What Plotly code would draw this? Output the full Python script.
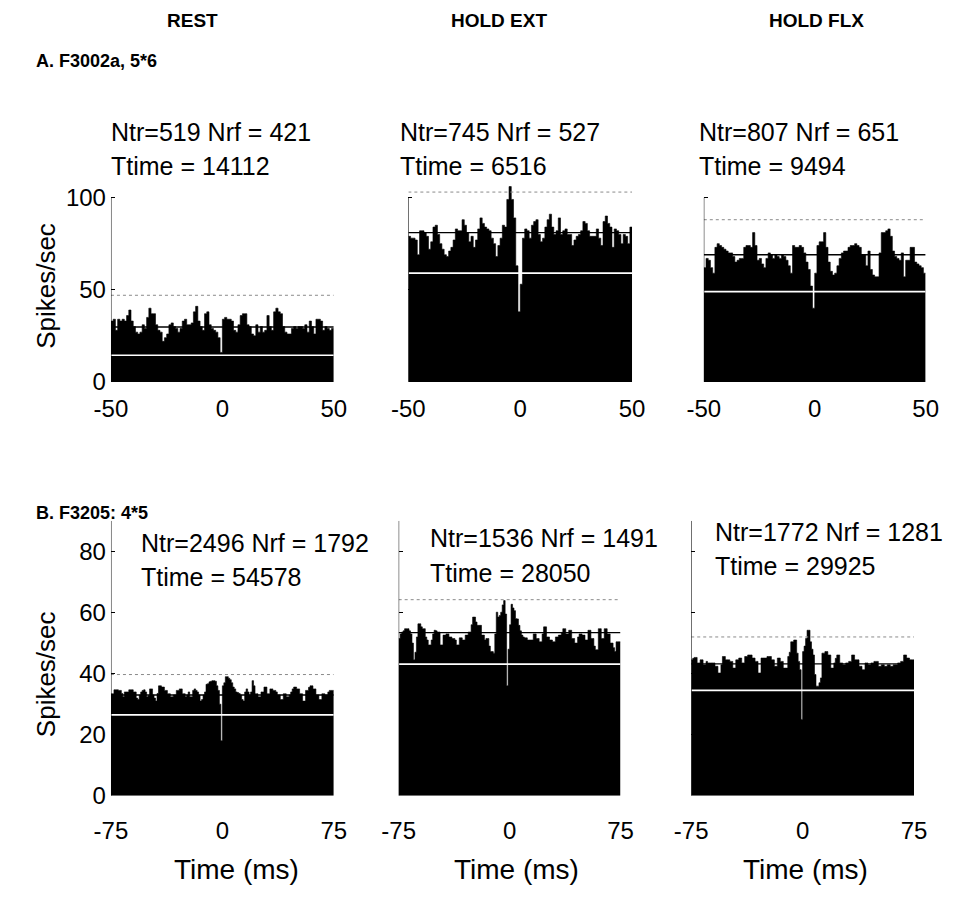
import plotly.graph_objects as go

# ---------------- data ----------------
conditions = ["REST", "HOLD EXT", "HOLD FLX"]
row_labels = ["A. F3002a, 5*6", "B. F3205: 4*5"]

ntr_A = [519, 745, 807]
nrf_A = [421, 527, 651]
ttime_A = [14112, 6516, 9494]
ntr_B = [2496, 1536, 1772]
nrf_B = [1792, 1491, 1281]
ttime_B = [54578, 28050, 29925]

# 1-ms bins, -50..50 ms (row A)
rate_A_rest = [33, 34, 28, 34, 33, 34, 33, 36, 39, 33,
               30, 27, 26, 27, 31, 29, 35, 40, 37, 37,
               31, 28, 27, 22, 24, 26, 31, 32, 30, 29,
               27, 29, 33, 34, 31, 31, 32, 38, 41, 33,
               30, 28, 37, 38, 31, 29, 28, 27, 24, 16,
               34, 35, 34, 34, 33, 28, 27, 31, 36, 37,
               37, 31, 30, 26, 25, 31, 27, 30, 27, 28,
               36, 30, 28, 38, 40, 38, 37, 30, 27, 26,
               26, 29, 30, 29, 30, 30, 29, 31, 27, 33,
               30, 26, 34, 34, 33, 28, 30, 29, 28, 29]
rate_A_ext = [79, 78, 78, 77, 69, 82, 82, 81, 79, 72,
              76, 84, 85, 80, 75, 72, 69, 68, 71, 73,
              77, 83, 82, 82, 88, 85, 81, 76, 79, 73,
              77, 83, 89, 86, 84, 83, 82, 78, 75, 68,
              74, 78, 85, 84, 99, 106, 99, 89, 63, 38,
              53, 78, 83, 82, 78, 85, 87, 88, 80, 76,
              78, 84, 88, 91, 84, 80, 82, 89, 80, 82,
              83, 80, 80, 74, 77, 79, 80, 82, 87, 86,
              82, 79, 79, 79, 83, 78, 74, 87, 90, 86,
              84, 73, 83, 82, 80, 75, 80, 79, 75, 84]
rate_A_flx = [62, 67, 66, 62, 59, 73, 75, 74, 73, 72,
              71, 70, 70, 68, 65, 66, 67, 67, 73, 74,
              74, 73, 81, 74, 66, 67, 64, 62, 67, 70,
              69, 67, 69, 68, 67, 69, 68, 66, 63, 59,
              74, 73, 73, 74, 73, 70, 65, 61, 52, 40,
              59, 74, 76, 76, 81, 73, 65, 60, 58, 59,
              63, 67, 70, 71, 71, 73, 74, 74, 75, 74,
              73, 69, 69, 63, 71, 61, 58, 57, 57, 70,
              81, 81, 82, 83, 79, 71, 68, 67, 66, 70,
              57, 66, 66, 73, 73, 65, 64, 63, 62, 59]

# 1-ms bins, -75..75 ms (row B)
rate_B_rest = [33.4, 33.4, 34.7, 34.7, 34.7, 34.5, 34.5, 33.5, 32.4, 34,
               34, 34, 34.7, 34.7, 34.7, 34, 34, 32, 31.5, 33,
               34, 34.5, 34.7, 34, 32.4, 32.8, 35, 35, 33, 32,
               31, 33.5, 36, 36, 35.6, 35.6, 34.5, 34.5, 33.4, 33.4,
               32.4, 32.4, 33, 33, 34.5, 34.5, 35, 35, 33.4, 33.4,
               32.4, 33, 34, 32.4, 32.4, 34.5, 35, 34.5, 34, 33,
               31, 31.5, 33, 34, 36.5, 36.7, 37.3, 37.5, 37.7, 37.7,
               37.5, 36, 34.5, 30, 18, 36, 37, 39, 39, 38.5,
               38, 37, 35.6, 35, 34, 33.8, 33.5, 33, 31.5, 31,
               34, 35, 34, 33, 34, 37.7, 36, 33.4, 33.4, 32.4,
               32.4, 34, 34, 35.6, 35.6, 33.4, 33.4, 35, 35, 34.5,
               34.5, 34, 33, 33, 31.5, 31.5, 33.4, 33.4, 32.4, 32.4,
               33, 34, 35, 35.6, 35.6, 35, 35, 33.4, 33.4, 31,
               31, 34.5, 34.5, 35.5, 36, 36, 35, 35, 33, 33,
               31.5, 31.5, 33.4, 33.4, 33, 33, 34, 34.5, 34.5, 34.5]
rate_B_ext = [51.5, 53, 53.6, 54, 54.7, 54.7, 54.7, 54, 53, 50,
              44.5, 47, 52, 56.3, 56.3, 55.3, 54.7, 54.7, 52, 51,
              49.4, 49.4, 51, 53, 54.2, 54, 53.6, 53.6, 49.4, 49.4,
              52.6, 52.6, 53, 53, 52, 52, 51.5, 51.5, 51, 49.4,
              49.4, 51.7, 51.7, 51, 51, 52.6, 52.6, 53.6, 53.6, 56,
              58.5, 58.5, 56.9, 55.8, 55.8, 55.8, 52.6, 52.6, 51, 51.5,
              51.5, 49, 47.2, 47.2, 46.7, 53, 60.1, 58.5, 59, 60.1,
              62.5, 63.9, 59.5, 36, 48, 56, 62.7, 61.5, 60.6, 58,
              57.9, 55.8, 54, 52.6, 52, 51.7, 51.7, 51, 51, 51,
              51, 53, 53, 51.5, 51.5, 50.4, 50.4, 53, 55.3, 55.3,
              52, 52, 51, 51, 50.4, 50.4, 52, 52, 52.6, 52.6,
              53.5, 54.7, 54.7, 53, 53, 54.2, 54.2, 51.5, 51.5, 50,
              50, 52, 53, 53, 52.6, 52.6, 51, 51, 54.2, 54.2,
              51.5, 51.5, 49, 47.8, 47.8, 54.7, 54.7, 51.5, 51.5, 54.7,
              54.7, 53, 53, 50, 50, 48.5, 47.2, 50.4, 50.4, 50.4]
rate_B_flx = [44.5, 45, 45.3, 45.3, 43.5, 43.5, 44.5, 44.5, 42.9, 42.9,
              44, 43.5, 43.5, 43.5, 43.5, 43.5, 42.4, 42.4, 40.2, 40.2,
              42.9, 45.6, 45.6, 44.5, 44.5, 44.5, 44, 44, 41.8, 41.8,
              44.5, 44.5, 45.1, 45.1, 43.5, 43.5, 45.6, 45.6, 46.1, 46.1,
              46.1, 45.1, 45.1, 44, 44, 40.2, 40.2, 45.1, 45.1, 45.1,
              45.1, 45.6, 45.6, 45.6, 44.5, 44.5, 42.4, 42.4, 45.1, 45.1,
              44, 44, 41.8, 41.8, 41.8, 45.6, 47, 50.4, 50.4, 51,
              51, 46.7, 44, 41.3, 25, 47.2, 49, 51.5, 54.2, 54.2,
              50.4, 48, 46.1, 39.7, 35.9, 35.9, 37, 38.6, 46.7, 46.7,
              47.2, 47.2, 46.1, 46.1, 41.8, 41.8, 43.5, 45, 46.1, 46.1,
              43.5, 43.5, 42.9, 42.9, 43.5, 43.5, 44, 44, 46.1, 46.1,
              44.5, 44.5, 44.5, 42.4, 42.4, 41.3, 41.3, 43.5, 43.5, 42.9,
              42.9, 43.5, 43.5, 44, 44, 44, 42.4, 42.4, 42.9, 42.9,
              42.4, 42.4, 42.9, 42.9, 42.4, 42.4, 42.9, 42.9, 42.9, 43.5,
              43.5, 44, 44, 46.1, 46.1, 45.1, 45.1, 44.5, 44.5, 44.5]

# reference levels (upper dotted, mean black, lower white)
upper_A = [47, 103, 88]
mean_A = [29.8, 81, 69]
lower_A = [14.5, 59, 49]
upper_B = [39.7, 64.2, 52]
mean_B = [33, 53.4, 43.2]
lower_B = [26.5, 43.1, 34.5]

lag_A = [-50, 0, 50]
lag_B = [-75, 0, 75]
yt_A = [0, 50, 100]
yt_B = [0, 20, 40, 60, 80]

# ---------------- layout geometry ----------------
W, H = 958, 899
FONT = "Liberation Sans, Arial, Helvetica, sans-serif"
NARROW = "Liberation Sans Narrow, Arial Narrow, Liberation Sans, sans-serif"

xpix_A = [(97, 327), (404, 635), (709, 938)]
xpix_B = [(97, 327), (394, 623), (696, 926)]
A_bottom, A_ppu, A_top_val = 387.5, 1.87, 108
B_bottom, B_ppu, B_top_val = 807.5, 3.1, 90


def xd(p):
    return [p[0] / W, p[1] / W]


def yd(bottom, ppu, topv):
    return [1 - bottom / H, 1 - (bottom - ppu * topv) / H]


fig = go.Figure()
shapes = []
annotations = []

rows = [
    dict(rates=[rate_A_rest, rate_A_ext, rate_A_flx], lag=lag_A, yt=yt_A,
         xpix=xpix_A, ydom=yd(A_bottom, A_ppu, A_top_val), ymax=A_top_val, axtop=100,
         up=upper_A, mn=mean_A, lo=lower_A, xstand=10),
    dict(rates=[rate_B_rest, rate_B_ext, rate_B_flx], lag=lag_B, yt=yt_B,
         xpix=xpix_B, ydom=yd(B_bottom, B_ppu, B_top_val), ymax=B_top_val, axtop=90,
         up=upper_B, mn=mean_B, lo=lower_B, xstand=18),
]

k = 0
for r, row in enumerate(rows):
    for c in range(3):
        k += 1
        xa = "x" if k == 1 else f"x{k}"
        ya = "y" if k == 1 else f"y{k}"
        rates = row["rates"][c]
        lo_edge = row["lag"][0]
        edges = [lo_edge + i for i in range(len(rates) + 1)]
        yvals = list(rates) + [rates[-1]]
        fig.add_trace(go.Scatter(
            x=edges, y=yvals, mode="lines", line_shape="hv",
            line=dict(color="black", width=0.6), fill="tozeroy",
            fillcolor="black", xaxis=xa, yaxis=ya, showlegend=False,
            hoverinfo="skip"))
        xmin, xmax = row["lag"][0], row["lag"][-1]
        # reference lines
        shapes.append(dict(type="line", xref=xa, yref=ya, x0=xmin, x1=xmax,
                           y0=row["up"][c], y1=row["up"][c],
                           line=dict(color="#8a8a8a", width=1, dash="dot")))
        shapes.append(dict(type="line", xref=xa, yref=ya, x0=xmin, x1=xmax,
                           y0=row["mn"][c], y1=row["mn"][c],
                           line=dict(color="black", width=1.3)))
        shapes.append(dict(type="line", xref=xa, yref=ya, x0=xmin, x1=xmax,
                           y0=row["lo"][c], y1=row["lo"][c],
                           line=dict(color="white", width=1.6)))
        # y axis line
        shapes.append(dict(type="line", xref=xa, yref=ya, x0=xmin, x1=xmin,
                           y0=0, y1=row["axtop"],
                           line=dict(color="black", width=1)))
        xkey = "xaxis" if k == 1 else f"xaxis{k}"
        ykey = "yaxis" if k == 1 else f"yaxis{k}"
        fig.layout[xkey] = dict(
            domain=xd(row["xpix"][c]), anchor=ya, range=[xmin, xmax],
            tickvals=row["lag"], ticktext=[str(v) for v in row["lag"]],
            showgrid=False, zeroline=False, showline=False, ticks="",
            tickfont=dict(family=FONT, size=24, color="black"),
            ticklabelstandoff=row["xstand"], fixedrange=True)
        fig.layout[ykey] = dict(
            domain=row["ydom"], anchor=xa, range=[0, row["ymax"]],
            tickvals=row["yt"], ticktext=[str(v) for v in row["yt"]],
            showticklabels=(c == 0), showgrid=False, zeroline=False,
            showline=False, ticks="inside", ticklen=4, tickcolor="black",
            tickfont=dict(family=FONT, size=24, color="black"),
            ticklabelstandoff=4, fixedrange=True)

# condition titles
for name, cx in zip(conditions, [181, 498, 825]):
    annotations.append(dict(text=f"<b>{name}</b>", x=cx / W, y=1 - 21 / H,
                            xref="paper", yref="paper", showarrow=False,
                            xanchor="center", yanchor="middle",
                            font=dict(family=NARROW, size=19, color="black")))
# row labels
for lab, yy in zip(row_labels, [62, 521]):
    annotations.append(dict(text=f"<b>{lab}</b>", x=18 / W, y=1 - yy / H,
                            xref="paper", yref="paper", showarrow=False,
                            xanchor="left", yanchor="middle",
                            font=dict(family=FONT, size=18, color="black")))

# count annotations
txt_pos_A = [(95, 134, 168), (393, 134, 168), (702, 134, 168)]
txt_pos_B = [(126, 551, 585), (424, 546, 581), (718, 540, 574)]
for ntr, nrf, tt, (px, y1, y2) in zip(ntr_A + ntr_B, nrf_A + nrf_B,
                                       ttime_A + ttime_B, txt_pos_A + txt_pos_B):
    annotations.append(dict(text=f"Ntr={ntr} Nrf = {nrf}", x=px / W, y=1 - y1 / H,
                            xref="paper", yref="paper", showarrow=False,
                            xanchor="left", yanchor="middle",
                            font=dict(family=FONT, size=25, color="black")))
    annotations.append(dict(text=f"Ttime = {tt}", x=px / W, y=1 - y2 / H,
                            xref="paper", yref="paper", showarrow=False,
                            xanchor="left", yanchor="middle",
                            font=dict(family=FONT, size=25, color="black")))

# y axis titles
for yy in [290, 684]:
    annotations.append(dict(text="Spikes/sec", x=30 / W, y=1 - yy / H,
                            xref="paper", yref="paper", showarrow=False,
                            textangle=-90, xanchor="center", yanchor="middle",
                            font=dict(family=FONT, size=26, color="black")))
# x axis titles
for cx in [227, 516, 814]:
    annotations.append(dict(text="Time (ms)", x=cx / W, y=1 - 882 / H,
                            xref="paper", yref="paper", showarrow=False,
                            xanchor="center", yanchor="middle",
                            font=dict(family=FONT, size=28, color="black")))

fig.update_layout(width=W, height=H, margin=dict(l=0, r=0, t=0, b=0),
                  paper_bgcolor="white", plot_bgcolor="white",
                  shapes=shapes, annotations=annotations, showlegend=False,
                  font=dict(family=FONT, color="black"))

fig.write_html("out.html", config={"displayModeBar": False})
